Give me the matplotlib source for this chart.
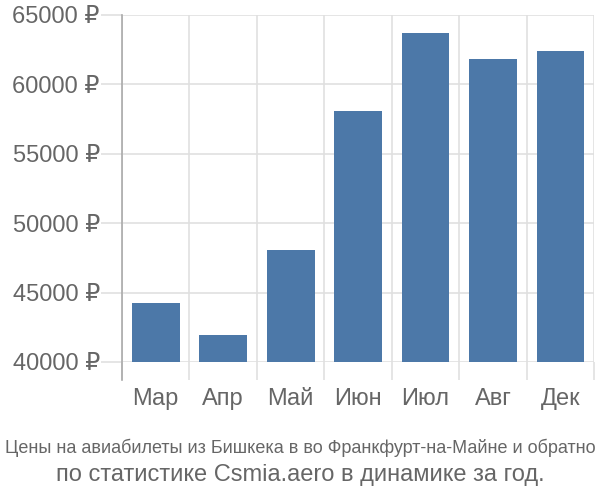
import matplotlib
matplotlib.use('Agg')
import matplotlib.pyplot as plt
from matplotlib.ticker import FuncFormatter

months = ['Мар', 'Апр', 'Май', 'Июн', 'Июл', 'Авг', 'Дек']
prices = [44250, 41950, 48080, 58050, 63700, 61850, 62420]
y_ticks = [40000, 45000, 50000, 55000, 60000, 65000]

title_line1 = 'Цены на авиабилеты из Бишкека в во Франкфурт-на-Майне и обратно'
title_line2 = 'по статистике Csmia.aero в динамике за год.'

plt.rcParams['font.family'] = ['Liberation Sans', 'DejaVu Sans']

fig = plt.figure(figsize=(6, 5), dpi=100)
ax = fig.add_axes([0.2033, 0.276, 0.787, 0.694])

x = list(range(len(months)))
ax.bar(x, [p - 40000 for p in prices], bottom=40000, width=0.71,
       color='#4c78a8', zorder=3)

ax.set_xlim(-0.5, len(months) - 0.5)
ax.set_ylim(40000, 65000)
ax.set_yticks(y_ticks)
ax.yaxis.set_major_formatter(FuncFormatter(lambda v, pos: f'{int(v)} ₽'))
ax.set_xticks(x)
ax.set_xticklabels(months)

# vertical grid sits between categories, like the ticks
ax.set_xticks([i - 0.5 for i in range(len(months) + 1)], minor=True)
ax.grid(True, which='minor', axis='x', color='#e0e0e0', lw=1.2, zorder=0)
ax.grid(True, which='major', axis='y', color='#e0e0e0', lw=1.2, zorder=0)
ax.tick_params(axis='x', which='major', length=0, pad=18.5, labelsize=17, labelcolor='#666666')
ax.tick_params(axis='x', which='minor', length=13, color='#e0e0e0', width=1.2)
ax.tick_params(axis='y', length=15, color='#e0e0e0', width=1.2, pad=1,
               labelsize=17, labelcolor='#666666')

for s in ['top', 'right', 'bottom']:
    ax.spines[s].set_visible(False)
ax.spines['left'].set_color('#aaaaaa')
ax.spines['left'].set_linewidth(1.2)
ax.spines['left'].set_bounds(38700, 65000)

fig.text(0.5, 0.105, title_line1, ha='center', va='center', fontsize=13,
         color='#666666', family=['Liberation Sans Narrow', 'Liberation Sans', 'DejaVu Sans'])
fig.text(0.5, 0.051, title_line2, ha='center', va='center', fontsize=17,
         color='#666666')

fig.savefig('out.png', dpi=100)
